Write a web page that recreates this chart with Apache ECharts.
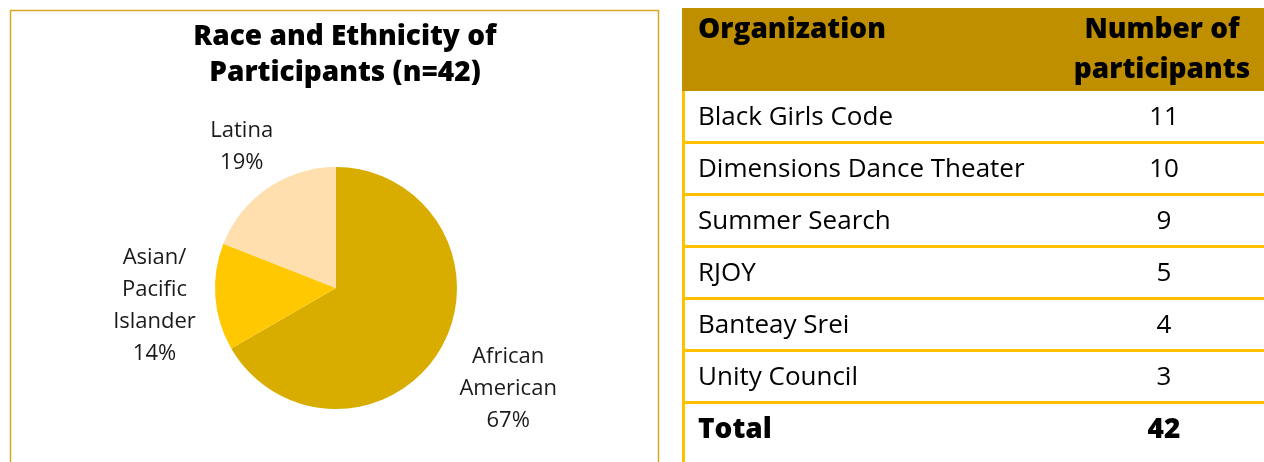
<!DOCTYPE html>
<html>
<head>
<meta charset="utf-8">
<script src="https://cdn.jsdelivr.net/npm/echarts@6/dist/echarts.min.js"></script>
<style>
  html, body { margin: 0; padding: 0; background: #fff; }
  #main { width: 1264px; height: 462px; }
</style>
</head>
<body>
<div id="main"></div>
<script>
// pie data
var raceNames = ['African\nAmerican', 'Asian/\nPacific\nIslander', 'Latina'];
var raceCounts = [28, 6, 8];
var raceColors = ['#D9AD00', '#FFC800', '#FFDFAE'];

// table data
var orgNames = ['Black Girls Code', 'Dimensions Dance Theater', 'Summer Search', 'RJOY', 'Banteay Srei', 'Unity Council'];
var orgCounts = [11, 10, 9, 5, 4, 3];
var headerCols = ['Organization', 'Number of\nparticipants'];
var totalLabel = 'Total';
var totalCount = 42;

var myChart = echarts.init(document.getElementById('main'), null, { renderer: 'canvas' });

var pieData = raceNames.map(function (n, i) {
    return { name: n, value: raceCounts[i], itemStyle: { color: raceColors[i] } };
});

// labels sit on an invisible ring around the pie (like excel's outside end)
var labelOffsets = [[18, 12], [-4, 4], [6, 6]];
var ringData = raceNames.map(function (n, i) {
    return {
        name: n, value: raceCounts[i],
        itemStyle: { color: 'rgba(0,0,0,0)' },
        label: { offset: labelOffsets[i] }
    };
});

// table graphics
var tableX = 682, tableRight = 1264, headTop = 8, headBottom = 91, rowH = 52;
var numX = 1164, textX = 698;
var boldFont = '800 28px "Open Sans"';
var gfx = [];

gfx.push({
    type: 'rect', silent: true,
    shape: { x: 10.5, y: 10.5, width: 648, height: 480 },
    style: { fill: 'none', stroke: '#D6A823', lineWidth: 1.5 }
});
gfx.push({
    type: 'rect', silent: true,
    shape: { x: tableX, y: headTop, width: tableRight - tableX, height: headBottom - headTop },
    style: { fill: '#BF8F00' }
});
gfx.push({
    type: 'text', silent: true,
    style: { text: headerCols[0], x: textX, y: 30, fill: '#000', font: boldFont, textVerticalAlign: 'middle' }
});
gfx.push({
    type: 'text', silent: true,
    style: { text: headerCols[1], x: numX - 2, y: 50, fill: '#000', font: boldFont, textAlign: 'center', textVerticalAlign: 'middle', lineHeight: 40 }
});

var rows = orgNames.map(function (n, i) { return [n, String(orgCounts[i]), false]; });
rows.push([totalLabel, String(totalCount), true]);

rows.forEach(function (r, i) {
    var cy = headBottom + 27 + rowH * i;
    var font = r[2] ? boldFont : '26px "Open Sans"';
    gfx.push({
        type: 'text', silent: true,
        style: { text: r[0], x: textX, y: cy, fill: '#000', font: font, textVerticalAlign: 'middle' }
    });
    gfx.push({
        type: 'text', silent: true,
        style: { text: r[1], x: numX, y: cy, fill: '#000', font: font, textAlign: 'center', textVerticalAlign: 'middle' }
    });
    if (i < rows.length - 1) {
        gfx.push({
            type: 'rect', silent: true,
            shape: { x: tableX, y: headBottom + rowH * (i + 1) - 2, width: tableRight - tableX, height: 3 },
            style: { fill: '#FFC000' }
        });
    }
});
gfx.push({
    type: 'rect', silent: true,
    shape: { x: tableX, y: headBottom, width: 3, height: 462 - headBottom },
    style: { fill: '#FFC000' }
});

var option = {
    animation: false,
    title: {
        text: 'Race and Ethnicity of\nParticipants (n=42)',
        left: 345,
        top: 19,
        padding: 0,
        textAlign: 'center',
        textStyle: { fontFamily: 'Open Sans', fontWeight: 800, fontSize: 28, lineHeight: 36, color: '#000' }
    },
    graphic: gfx,
    series: [{
        name: 'Race',
        type: 'pie',
        center: [336, 288],
        radius: 121,
        startAngle: 90,
        clockwise: true,
        silent: true,
        label: { show: false },
        labelLine: { show: false },
        data: pieData
    }, {
        name: 'RaceLabels',
        type: 'pie',
        center: [336, 288],
        radius: [121, 229],
        startAngle: 90,
        clockwise: true,
        silent: true,
        percentPrecision: 0,
        label: {
            show: true,
            position: 'inside',
            formatter: '{b}\n{d}%',
            fontFamily: 'Open Sans',
            fontSize: 22,
            lineHeight: 32,
            color: '#1a1a1a',
            align: 'center'
        },
        labelLine: { show: false },
        data: ringData
    }]
};

myChart.setOption(option);
</script>
</body>
</html>
